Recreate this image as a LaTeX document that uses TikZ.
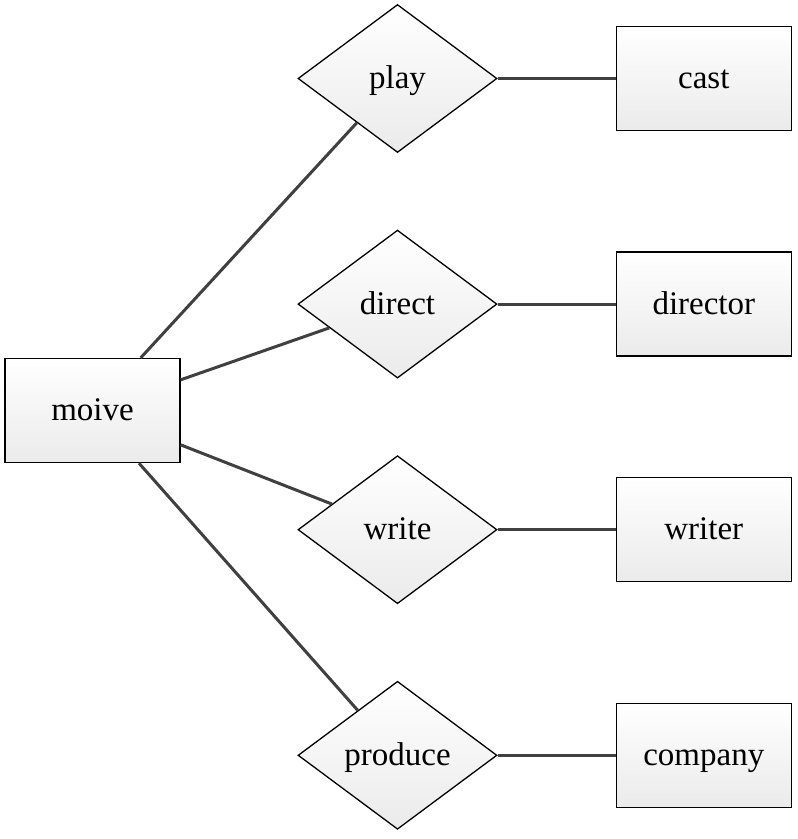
\documentclass[tikz,border=0pt]{standalone}
\usepackage{fontspec}
\setmainfont{Liberation Serif}
\usepackage{tikz}
\usetikzlibrary{positioning,shapes.geometric,calc}
\tikzstyle{block} = [draw, line width=1.3pt, rectangle, shading=axis, top color=white, bottom color=black!8,
minimum height=104pt, minimum width=175pt, node distance=118pt]
\tikzstyle{relation} = [draw, line width=1.3pt, diamond, shading=axis, top color=white, bottom color=black!8,
minimum height=148pt, minimum width=199pt, inner sep=0pt, node distance=76.3pt]
\tikzstyle{conn} = [draw, line width=3pt, black!75]

\begin{document}
\begin{tikzpicture}[x=1pt, y=1pt, font=\fontsize{33}{40}\selectfont, text height=28pt, text depth=8pt]
	\useasboundingbox (0,0) rectangle (798,839);
	\node [relation] (play) at (397.5,760.5) {play};
	\node [relation, below=of play] (direct) {direct};
	\node [relation, below=of direct] (write) {write};
	\node [relation, below=of write] (produce) {produce};
	\node [block, right=of play] (cast) {cast};
	\node [block, right=of direct] (director) {director};
	\node [block, right=of write] (writer) {writer};
	\node [block, right=of produce] (company) {company};
	\node [block] (moive) at (92.5,428.5) {moive};
	
	\draw [conn] (moive) -- (play);
	\draw [conn] (moive) -- (direct);
	\draw [conn] (moive) -- (write);
	\draw [conn] (moive) -- (produce);
	\draw [conn] (play) -- (cast);
	\draw [conn] (direct) -- (director);
	\draw [conn] (write) -- (writer);
	\draw [conn] (produce) -- (company);
	
\end{tikzpicture}
\end{document}
